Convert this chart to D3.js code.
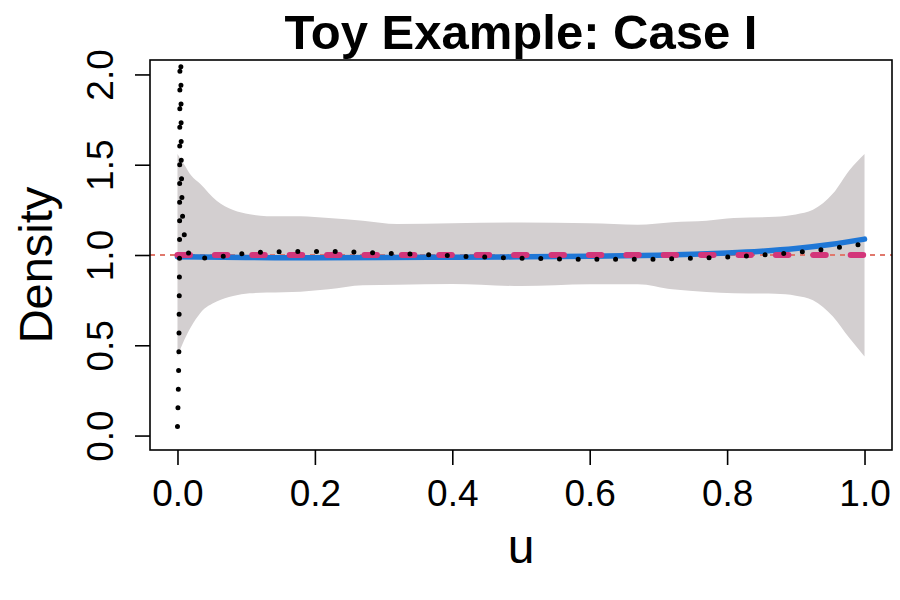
<!DOCTYPE html>
<html>
<head>
<meta charset="utf-8">
<script src="https://cdn.jsdelivr.net/npm/d3@7"></script>
<style>
  body { margin: 0; background: #fff; }
  text { font-family: "Liberation Sans", Arial, Helvetica, sans-serif; fill: #000; }
</style>
</head>
<body>
<div class="content"></div>
<script>
const W = 900, H = 600;
const BOX = {left: 150, right: 892, top: 60, bottom: 450};

// posterior band (grey)
const bandU     = [0, 0.01, 0.02, 0.033, 0.057, 0.081, 0.105, 0.13, 0.179, 0.22, 0.27, 0.32, 0.4, 0.5, 0.6, 0.67, 0.72, 0.77, 0.81, 0.87, 0.9, 0.925, 0.954, 0.978, 1.0];
const bandUpper = [1.56, 1.5, 1.44, 1.395, 1.30, 1.249, 1.226, 1.215, 1.215, 1.205, 1.19, 1.172, 1.176, 1.18, 1.176, 1.168, 1.182, 1.19, 1.205, 1.212, 1.225, 1.25, 1.34, 1.47, 1.56];
const bandLower = [0.438, 0.53, 0.604, 0.678, 0.742, 0.773, 0.788, 0.792, 0.797, 0.81, 0.832, 0.835, 0.84, 0.828, 0.838, 0.838, 0.81, 0.795, 0.788, 0.785, 0.775, 0.75, 0.66, 0.54, 0.438];

// fitted density (blue)
const fitU = [0, 0.1, 0.2, 0.3, 0.4, 0.5, 0.6, 0.7, 0.75, 0.8, 0.85, 0.9, 0.95, 1.0];
const fitY = [0.99, 0.986, 0.985, 0.986, 0.988, 0.99, 0.993, 0.999, 1.004, 1.011, 1.021, 1.036, 1.058, 1.088];

// true density (magenta dashed)
const trueU = [0, 1];
const trueY = [1, 1];

// kernel estimate (black dotted)
const kdeU = [0, 0.001, 0.002, 0.003, 0.0035, 0.0042, 0.005, 0.0055, 0.0068, 0.0085, 0.0116, 0.017, 0.025, 0.052, 0.079, 0.106, 0.133, 0.16, 0.1875, 0.215, 0.2417, 0.269, 0.2965, 0.324, 0.351, 0.378, 0.4055, 0.433, 0.46, 0.487, 0.514, 0.542, 0.569, 0.596, 0.65, 0.678, 0.705, 0.733, 0.76, 0.787, 0.814, 0.841, 0.869, 0.896, 0.923, 0.95, 0.977, 1.0];
const kdeY = [0.05, 0.2, 0.45, 1.0, 2.0, 2.6, 2.0, 1.5, 1.25, 1.15, 1.065, 1.0, 0.98, 0.985, 1.0, 1.012, 1.017, 1.02, 1.02, 1.02, 1.018, 1.015, 1.011, 1.007, 1.004, 1.0, 0.994, 0.99, 0.987, 0.983, 0.981, 0.979, 0.978, 0.976, 0.976, 0.976, 0.978, 0.98, 0.983, 0.987, 0.99, 0.998, 1.004, 1.013, 1.024, 1.035, 1.05, 1.062];

const xTicks = [0, 0.2, 0.4, 0.6, 0.8, 1.0];
const yTicks = [0, 0.5, 1.0, 1.5, 2.0];
const refLine = 1;

const svg = d3.select(".content").append("svg").attr("width", W).attr("height", H);

let x = d3.scaleLinear().domain([-0.04, 1.04]).range([BOX.left, BOX.right]);
let y = d3.scaleLinear().domain([-0.08, 2.08]).range([BOX.bottom, BOX.top]);

svg.append("defs").append("clipPath").attr("id", "clip")
  .append("rect").attr("x", BOX.left).attr("y", BOX.top)
  .attr("width", BOX.right - BOX.left).attr("height", BOX.bottom - BOX.top);

const plot = svg.append("g").attr("clip-path", "url(#clip)");

let band = bandU.map((u, i) => ({u: u, lo: bandLower[i], hi: bandUpper[i]}));
let area = d3.area().curve(d3.curveMonotoneX)
  .x(d => x(d.u)).y0(d => y(d.lo)).y1(d => y(d.hi));
plot.append("path").datum(band).attr("d", area).attr("fill", "#d3cfd0");

// abline h = 1
plot.append("line")
  .attr("x1", BOX.left).attr("x2", BOX.right)
  .attr("y1", y(refLine)).attr("y2", y(refLine))
  .attr("stroke", "#e0786c").attr("stroke-width", 2).attr("stroke-dasharray", "5 5");

let line = d3.line().curve(d3.curveMonotoneX).x(d => x(d[0])).y(d => y(d[1]));

plot.append("path").datum(fitU.map((u, i) => [u, fitY[i]])).attr("d", line)
  .attr("fill", "none").attr("stroke", "#1f77d6").attr("stroke-width", 5.5)
  .attr("stroke-linecap", "round");

plot.append("path").datum(trueU.map((u, i) => [u, trueY[i]])).attr("d", line)
  .attr("fill", "none").attr("stroke", "#d3367a").attr("stroke-width", 6)
  .attr("stroke-linecap", "round").attr("stroke-dasharray", "12.5 24.9");

let kdeLine = d3.line().x(d => x(d[0])).y(d => y(d[1]));
plot.append("path").datum(kdeU.map((u, i) => [u, kdeY[i]])).attr("d", kdeLine)
  .attr("fill", "none").attr("stroke", "#000").attr("stroke-width", 5)
  .attr("stroke-linecap", "round").attr("stroke-dasharray", "0 18.7");

// box
svg.append("rect").attr("x", BOX.left).attr("y", BOX.top)
  .attr("width", BOX.right - BOX.left).attr("height", BOX.bottom - BOX.top)
  .attr("fill", "none").attr("stroke", "#000").attr("stroke-width", 1.6);

// axes
let xAxis = d3.axisBottom(x).tickValues(xTicks).tickFormat(d3.format(".1f")).tickSize(15);
let xg = svg.append("g").attr("transform", "translate(0," + BOX.bottom + ")").call(xAxis);
xg.select(".domain").remove();
xg.selectAll("line").attr("stroke", "#000").attr("stroke-width", 1.6);
xg.selectAll("text").attr("font-size", 37).attr("font-family", null).attr("dy", null).attr("y", 56);

let yAxis = d3.axisLeft(y).tickValues(yTicks).tickFormat(d3.format(".1f")).tickSize(15);
let yg = svg.append("g").attr("transform", "translate(" + BOX.left + ",0)").call(yAxis);
yg.select(".domain").remove();
yg.selectAll("line").attr("stroke", "#000").attr("stroke-width", 1.6);
yg.selectAll("text").attr("font-size", 37).attr("font-family", null)
  .attr("x", null).attr("dy", null).attr("text-anchor", "middle")
  .attr("transform", "translate(-37,0) rotate(-90)");

// titles
svg.append("text").attr("x", (BOX.left + BOX.right) / 2).attr("y", 49)
  .attr("text-anchor", "middle").attr("font-size", 49).attr("font-weight", "bold")
  .text("Toy Example: Case I");
svg.append("text").attr("x", (BOX.left + BOX.right) / 2).attr("y", 563)
  .attr("text-anchor", "middle").attr("font-size", 48).text("u");
svg.append("text").attr("transform", "translate(52," + ((BOX.top + BOX.bottom) / 2 + 10) + ") rotate(-90)")
  .attr("text-anchor", "middle").attr("font-size", 47).text("Density");
</script>
</body>
</html>
